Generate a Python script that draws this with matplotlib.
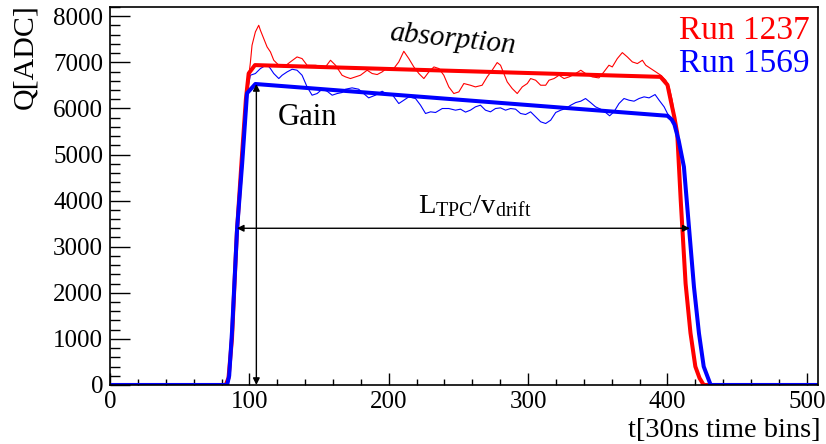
import matplotlib
matplotlib.use("Agg")
import matplotlib.pyplot as plt
from matplotlib.ticker import MultipleLocator

plt.rcParams['font.family'] = ['Liberation Serif', 'DejaVu Serif']
plt.rcParams['mathtext.fontset'] = 'custom'
plt.rcParams['mathtext.rm'] = 'Liberation Serif'
plt.rcParams['mathtext.it'] = 'Liberation Serif:italic'

# fitted curves (thick)
red_fit_t = [0, 83, 85, 87.5, 91, 94.5, 97.5, 99.5, 104, 395, 400, 402.5, 405, 407,
             409.5, 413, 416.5, 420, 423, 426, 508]
red_fit_q = [0, 0, 150, 1000, 3300, 4900, 6200, 6760, 6940, 6685, 6510, 6150, 5800, 5460,
             4010, 2200, 1130, 400, 150, 0, 0]

blue_fit_t = [0, 84, 85.5, 87.6, 91.2, 94.8, 98.3, 104.3, 400, 403, 405, 408, 411.8,
              415.4, 419, 422.6, 426, 431, 508]
blue_fit_q = [0, 0, 200, 1190, 3400, 4800, 6330, 6530, 5840, 5760, 5650, 5310, 4733,
              3430, 2130, 1120, 400, 0, 0]

# measured histograms (thin)
red_hist_t = [0, 83, 85, 87.5, 91, 94.5, 97.5, 100.7, 101.9, 104.3, 106.7, 107.9, 110.3,
              112.7, 115.1, 117.5, 121.1, 124.7, 129.4, 134.2, 137.8, 141.4, 147.4, 154.6,
              158.2, 161.8, 166.5, 169, 172.5, 176.1, 179.7, 184.5, 188.1, 191.7, 195.3,
              198.9, 203.6, 207.2, 210.8, 214.4, 218, 221.6, 225.2, 228.8, 232.4, 236,
              239.5, 243.1, 246.7, 250.3, 253.9, 258.6, 262.2, 267, 270.6, 274.2, 277.8,
              280.2, 282.6, 285, 288.6, 292.2, 295.8, 299.4, 301.8, 305.4, 309, 312.6,
              315, 318.6, 322.2, 325.8, 329.4, 333, 337.8, 341.2, 346, 350.8, 354.4, 358,
              360.4, 364, 367.6, 371.2, 374.8, 378.4, 382, 384.4, 388, 391.6, 395.2,
              398.8, 401.2, 403.4, 407, 409.5, 413, 416.5, 420, 423, 426, 508]
red_hist_q = [0, 0, 150, 1000, 3300, 4900, 6200, 6990, 7370, 7660, 7804, 7696, 7515,
              7334, 7226, 7045, 6937, 6900, 7009, 7117, 7081, 6937, 6937, 6900,
              7045, 6937, 6720, 6684, 6648, 6684, 6720, 6829, 6757, 6735, 6793,
              6880, 6865, 7009, 7240, 7081, 6900, 6757, 6648, 6793, 6900, 6865,
              6720, 6467, 6323, 6359, 6540, 6503, 6467, 6503, 6684, 6829, 6995,
              6937, 6757, 6576, 6431, 6323, 6467, 6540, 6648, 6612, 6503, 6503,
              6612, 6648, 6720, 6648, 6684, 6735, 6829, 6757, 6684, 6662, 6793, 6937,
              6900, 7081, 7211, 7117, 7009, 6973, 7045, 6937, 6865, 6793, 6720,
              6612, 6467, 6178, 5460, 4010, 2200, 1130, 400, 150, 0, 0]

blue_hist_t = [0, 84, 85.5, 87.6, 91.2, 94.8, 97.5, 100.7, 104.3, 107.9, 112.7, 115.1,
               117.5, 121.1, 123.5, 127.1, 130.7, 134.2, 137.8, 141.4, 145, 148.6, 152.2,
               155.8, 159.4, 163, 166.5, 169, 173.7, 178.4, 182, 185.6, 190.4, 195.3,
               198.9, 202.5, 207.2, 210.8, 214.4, 219.2, 222.8, 226.4, 230, 233.6, 238.4,
               243.1, 247.9, 251.5, 255.1, 258.6, 262.2, 265.8, 269.4, 273, 276.6, 280.2,
               283.8, 287.4, 291, 294.6, 298.2, 301.8, 305.4, 309, 312.6, 316.2, 319.8,
               323.4, 327, 330.6, 334.2, 337.8, 341.2, 344.8, 348.4, 352, 355.6, 358.5,
               361.6, 365.2, 368.8, 372.4, 376, 379.6, 383.2, 386.8, 391.1, 394, 397.6,
               400, 404.6, 408, 411.8, 415.4, 419, 422.6, 426, 431, 508]
blue_hist_q = [0, 0, 200, 1190, 3400, 4800, 6200, 6720, 6757, 6865, 6951, 6865,
               6757, 6648, 6720, 6793, 6850, 6829, 6720, 6467, 6287, 6323, 6417,
               6373, 6287, 6323, 6345, 6417, 6446, 6417, 6323, 6229, 6287, 6373,
               6301, 6301, 6106, 6178, 6251, 6215, 6070, 5890, 5926, 5912, 5998,
               5998, 5962, 5984, 5920, 5962, 6034, 6070, 5962, 5926, 5998, 6012,
               5962, 5998, 5984, 5890, 5868, 5926, 5818, 5710, 5673, 5745, 5912,
               5962, 5998, 6070, 6128, 6157, 6215, 6128, 6034, 5984, 5912, 5840,
               5926, 6106, 6215, 6178, 6157, 6215, 6251, 6229, 6301, 6178, 6034,
               5890, 5708, 5310, 4733, 3430, 2130, 1120, 400, 0, 0]

fig = plt.figure(figsize=(8.26, 4.44), dpi=100)
ax = fig.add_axes([0.1332, 0.1329, 0.8571, 0.8513])

ax.plot(red_hist_t, red_hist_q, color='#ff0000', lw=0.8)
ax.plot(blue_hist_t, blue_hist_q, color='#0000ff', lw=0.8)
ax.plot(red_fit_t, red_fit_q, color='#ff0000', lw=2.9)
ax.plot(blue_fit_t, blue_fit_q, color='#0000ff', lw=2.9)

# annotations
ax.annotate('', xy=(105, 6530), xytext=(105, 0),
            arrowprops=dict(arrowstyle='<|-|>', color='black', lw=1.0,
                            mutation_scale=10, shrinkA=0, shrinkB=0))
ax.annotate('', xy=(91, 3400), xytext=(416, 3400),
            arrowprops=dict(arrowstyle='<|-|>', color='black', lw=1.0,
                            mutation_scale=10, shrinkA=0, shrinkB=0))
ax.text(262, 3720, r'L$_{\mathrm{TPC}}$/v$_{\mathrm{drift}}$', fontsize=20.5,
        ha='center', va='baseline')
ax.text(120, 5650, 'Gain', fontsize=22, ha='left', va='baseline')
ax.text(246, 7500, 'absorption', fontsize=21, style='italic', rotation=-6,
        ha='center', va='center', rotation_mode='anchor')
ax.text(502, 7500, 'Run 1237', fontsize=24, color='#ff0000', ha='right', va='baseline')
ax.text(502, 6790, 'Run 1569', fontsize=24, color='#0000ff', ha='right', va='baseline')

ax.set_xlim(0, 508)
ax.set_ylim(0, 8200)
ax.xaxis.set_major_locator(MultipleLocator(100))
ax.xaxis.set_minor_locator(MultipleLocator(20))
ax.yaxis.set_major_locator(MultipleLocator(1000))
ax.yaxis.set_minor_locator(MultipleLocator(200))
ax.tick_params(axis='both', which='both', direction='in', top=False, right=False,
               labelsize=18, width=1.0)
ax.tick_params(axis='y', which='major', length=14.4, pad=5)
ax.tick_params(axis='y', which='minor', length=7.2)
ax.tick_params(axis='x', which='major', length=8.4, pad=4)
ax.tick_params(axis='x', which='minor', length=4.1)
for s in ax.spines.values():
    s.set_linewidth(1.2)

fig.text(0.993, 0.016, 't[30ns time bins]', fontsize=20.5, ha='right', va='baseline')
fig.text(0.030, 0.99, 'Q[ADC]', fontsize=21.5, rotation=90, ha='center', va='top')

fig.savefig('out.png', dpi=100)
